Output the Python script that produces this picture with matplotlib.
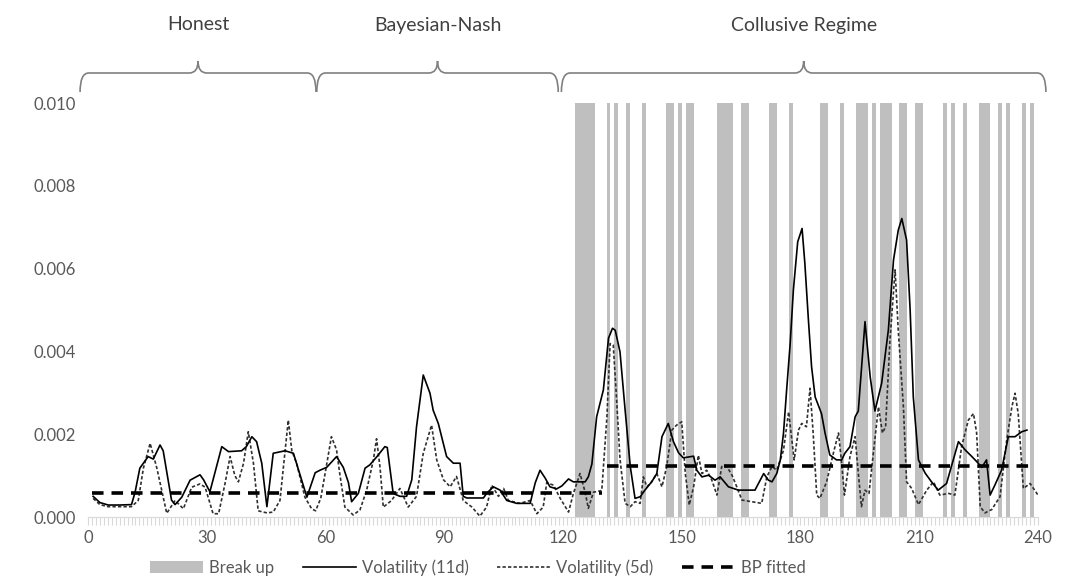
import matplotlib.pyplot as plt
from matplotlib.path import Path
from matplotlib.patches import PathPatch
from matplotlib.transforms import blended_transform_factory
from matplotlib.ticker import MultipleLocator, FuncFormatter

plt.rcParams['font.family'] = ['Lato', 'DejaVu Sans']

# days flagged as "break up"
breakup_days = [123, 124, 125, 126, 127, 131, 133, 136, 140, 146, 147, 149, 151, 152,
                159, 160, 161, 162, 165, 166, 172, 173, 177, 185, 186, 190, 194, 195,
                196, 198, 200, 201, 202, 205, 206, 209, 210, 216, 218, 221, 225, 226,
                227, 230, 232, 236, 238]

# volatility, 11 day window
vol11_x = [1.3, 3.0, 5.1, 8.0, 11.0, 11.9, 13.1, 15.2, 16.5, 18.2, 19.0, 21.1, 22.0, 23.7,
           25.8, 28.3, 29.2, 30.8, 33.8, 35.5, 38.8, 40.0, 41.4, 42.6, 43.9, 45.2, 46.8,
           49.8, 51.9, 54.0, 55.3, 57.4, 58.6, 60.3, 62.8, 64.5, 65.8, 66.6, 68.3, 70.0,
           71.2, 73.0, 75.0, 75.6, 77.1, 78.8, 80.5, 81.8, 83.0, 84.7, 86.4, 87.2, 88.5,
           90.6, 92.3, 94.0, 94.8, 95.7, 99.9, 100.7, 102.4, 104.1, 105.8, 108.3, 111.7,
           113.0, 114.2, 115.5, 116.7, 118.4, 119.7, 121.4, 122.6, 123.9, 125.6, 126.4,
           127.3, 128.5, 130.2, 131.5, 132.5, 133.2, 134.4, 135.7, 137.0, 138.2, 139.5,
           140.7, 142.4, 143.7, 145.0, 146.6, 147.9, 149.2, 150.4, 153.0, 153.8, 155.1,
           156.8, 158.4, 159.7, 161.8, 164.3, 168.5, 170.7, 171.9, 172.8, 174.0, 174.9,
           175.7, 176.5, 177.4, 178.2, 179.3, 180.4, 181.1, 182.0, 182.8, 183.7, 185.3,
           186.2, 187.4, 189.1, 190.4, 191.2, 192.5, 193.8, 194.6, 196.3, 197.6, 198.8,
           200.5, 202.2, 203.5, 204.7, 205.6, 206.8, 207.7, 208.5, 209.8, 211.5, 213.1,
           214.8, 216.9, 218.6, 219.9, 221.6, 223.3, 224.5, 225.8, 227.0, 227.9, 229.1,
           230.8, 232.5, 234.2, 235.9, 237.2]
vol11_y = [0.00050, 0.00035, 0.00029, 0.00029, 0.00030, 0.00060, 0.00118, 0.00146, 0.00140,
           0.00174, 0.00160, 0.00041, 0.00030, 0.00048, 0.00089, 0.00102, 0.00090, 0.00061,
           0.00170, 0.00158, 0.00160, 0.00170, 0.00194, 0.00182, 0.00130, 0.00025, 0.00154,
           0.00160, 0.00154, 0.00089, 0.00048, 0.00107, 0.00113, 0.00120, 0.00146, 0.00120,
           0.00083, 0.00037, 0.00057, 0.00118, 0.00126, 0.00146, 0.00170, 0.00168, 0.00057,
           0.00050, 0.00050, 0.00090, 0.00218, 0.00343, 0.00299, 0.00258, 0.00226, 0.00146,
           0.00130, 0.00130, 0.00050, 0.00046, 0.00046, 0.00057, 0.00073, 0.00065, 0.00040,
           0.00033, 0.00033, 0.00083, 0.00113, 0.00094, 0.00073, 0.00068, 0.00075, 0.00092,
           0.00085, 0.00085, 0.00085, 0.00097, 0.00128, 0.00242, 0.00307, 0.00432, 0.00456,
           0.00451, 0.00399, 0.00258, 0.00122, 0.00045, 0.00049, 0.00065, 0.00085, 0.00105,
           0.00194, 0.00226, 0.00182, 0.00155, 0.00143, 0.00147, 0.00113, 0.00097, 0.00101,
           0.00089, 0.00097, 0.00073, 0.00065, 0.00065, 0.00105, 0.00089, 0.00085, 0.00105,
           0.00138, 0.00202, 0.00307, 0.00420, 0.00548, 0.00665, 0.00697, 0.00613, 0.00476,
           0.00363, 0.00290, 0.00250, 0.00203, 0.00150, 0.00138, 0.00138, 0.00154, 0.00170,
           0.00242, 0.00256, 0.00472, 0.00339, 0.00256, 0.00323, 0.00452, 0.00621, 0.00693,
           0.00721, 0.00669, 0.00500, 0.00290, 0.00138, 0.00106, 0.00085, 0.00065, 0.00081,
           0.00138, 0.00182, 0.00162, 0.00146, 0.00134, 0.00120, 0.00138, 0.00053, 0.00077,
           0.00113, 0.00194, 0.00194, 0.00206, 0.00210]

# volatility, 5 day window
vol5_x = [1.3, 3.0, 5.1, 8.0, 11.0, 12.7, 14.0, 15.7, 17.4, 19.9, 22.0, 24.1, 26.2, 28.3,
          29.6, 31.6, 33.0, 34.6, 35.9, 37.1, 38.0, 39.3, 40.5, 41.8, 43.0, 45.2, 46.8,
          48.5, 49.8, 50.6, 51.5, 52.7, 54.8, 56.5, 57.5, 58.8, 59.9, 61.5, 62.8, 63.6,
          64.9, 67.0, 68.7, 70.4, 72.1, 72.9, 73.8, 74.6, 76.7, 78.8, 80.9, 83.0, 84.7,
          86.8, 88.1, 89.8, 91.5, 93.1, 94.8, 97.0, 99.0, 100.7, 102.0, 103.7, 105.0,
          106.2, 109.1, 111.7, 113.4, 115.0, 115.9, 117.6, 119.3, 121.4, 122.6, 124.3,
          125.6, 126.4, 127.7, 129.8, 131.1, 131.9, 132.7, 133.6, 134.4, 135.7, 137.0,
          138.2, 139.5, 140.3, 141.2, 142.4, 143.7, 145.0, 146.2, 147.5, 148.7, 150.0,
          150.9, 151.9, 153.0, 154.2, 155.1, 156.3, 157.6, 158.9, 160.1, 161.4, 162.7,
          163.9, 165.2, 167.7, 170.2, 171.5, 172.8, 174.0, 175.7, 177.0, 178.4, 179.5,
          180.3, 181.5, 182.4, 183.2, 184.1, 184.9, 186.6, 188.3, 189.6, 190.4, 191.1,
          192.5, 193.8, 194.6, 195.4, 196.3, 197.3, 198.4, 199.7, 200.7, 201.5, 202.6,
          203.9, 204.7, 206.0, 206.8, 208.1, 209.8, 211.9, 213.6, 215.2, 217.4, 219.0,
          220.7, 222.4, 223.7, 224.5, 225.4, 226.6, 228.3, 230.4, 232.1, 233.4, 234.2,
          235.0, 236.3, 238.0, 240.0]
vol5_y = [0.00045, 0.00030, 0.00025, 0.00025, 0.00025, 0.00040, 0.00118, 0.00178, 0.00118,
          0.00009, 0.00040, 0.00020, 0.00072, 0.00080, 0.00072, 0.00008, 0.00008, 0.00080,
          0.00146, 0.00100, 0.00085, 0.00130, 0.00206, 0.00130, 0.00015, 0.00010, 0.00012,
          0.00040, 0.00160, 0.00234, 0.00160, 0.00130, 0.00048, 0.00020, 0.00015, 0.00045,
          0.00105, 0.00194, 0.00162, 0.00105, 0.00024, 0.00005, 0.00017, 0.00065, 0.00138,
          0.00189, 0.00118, 0.00024, 0.00040, 0.00069, 0.00024, 0.00050, 0.00154, 0.00222,
          0.00138, 0.00090, 0.00073, 0.00098, 0.00040, 0.00024, 0.00002, 0.00024, 0.00077,
          0.00050, 0.00069, 0.00040, 0.00033, 0.00040, 0.00008, 0.00024, 0.00083, 0.00077,
          0.00045, 0.00012, 0.00056, 0.00105, 0.00060, 0.00021, 0.00060, 0.00064, 0.00242,
          0.00419, 0.00415, 0.00275, 0.00140, 0.00033, 0.00025, 0.00037, 0.00033, 0.00097,
          0.00073, 0.00085, 0.00105, 0.00073, 0.00122, 0.00210, 0.00222, 0.00230, 0.00105,
          0.00029, 0.00073, 0.00149, 0.00105, 0.00113, 0.00089, 0.00053, 0.00122, 0.00122,
          0.00101, 0.00073, 0.00041, 0.00037, 0.00033, 0.00097, 0.00122, 0.00113, 0.00161,
          0.00254, 0.00138, 0.00210, 0.00226, 0.00218, 0.00311, 0.00203, 0.00053, 0.00045,
          0.00085, 0.00154, 0.00203, 0.00130, 0.00053, 0.00146, 0.00194, 0.00106, 0.00025,
          0.00065, 0.00057, 0.00154, 0.00266, 0.00203, 0.00218, 0.00427, 0.00597, 0.00450,
          0.00266, 0.00085, 0.00069, 0.00030, 0.00065, 0.00085, 0.00053, 0.00057, 0.00053,
          0.00170, 0.00234, 0.00250, 0.00203, 0.00025, 0.00010, 0.00018, 0.00049, 0.00186,
          0.00266, 0.00299, 0.00250, 0.00069, 0.00081, 0.00053]

# fitted break point levels
bp1_x = [1, 129.8]
bp1_y = [0.00058, 0.00058]
bp2_x = [131, 238]
bp2_y = [0.00123, 0.00123]

# regimes shown with braces above the plot
regimes = ['Honest', 'Bayesian-Nash', 'Collusive Regime']
regime_bounds = [(-2, 57.6), (57.8, 118.8), (119.6, 242)]

fig = plt.figure(figsize=(10.69, 5.86), dpi=100)
ax = fig.add_axes([0.0823, 0.1177, 0.8887, 0.7065])

h_bar = ax.bar(breakup_days, [0.010] * len(breakup_days), width=1, align='edge',
               color='#bfbfbf', linewidth=0, zorder=1)
h11, = ax.plot(vol11_x, vol11_y, color='black', lw=1.2, zorder=3)
h5, = ax.plot(vol5_x, vol5_y, color='#303030', lw=1.2, ls=(0, (2, 1.3)), zorder=2)
hbp, = ax.plot(bp1_x, bp1_y, color='black', lw=2.6, ls=(0, (3.2, 2.2)), zorder=4)
ax.plot(bp2_x, bp2_y, color='black', lw=2.6, ls=(0, (3.2, 2.2)), zorder=4)

ax.set_xlim(0, 240)
ax.set_ylim(0, 0.010)
ax.xaxis.set_major_locator(MultipleLocator(30))
ax.xaxis.set_minor_locator(MultipleLocator(1))
ax.yaxis.set_major_locator(MultipleLocator(0.002))
ax.yaxis.set_major_formatter(FuncFormatter(lambda v, p: f'{v:.3f}'))
for s in ['top', 'right', 'left']:
    ax.spines[s].set_visible(False)
ax.spines['bottom'].set_color('#d9d9d9')
ax.tick_params(axis='x', which='both', color='#d9d9d9', length=6, width=0.8,
               labelcolor='#595959', labelsize=12, pad=3)
ax.tick_params(axis='y', length=0, labelcolor='#595959', labelsize=12, pad=9)

# braces + regime labels
tr = blended_transform_factory(ax.transData, fig.transFigure)
y_end = 1 - 92 / 586
y_line = 1 - 73 / 586
y_tip = 1 - 61 / 586
y_txt = 1 - 25 / 586
r = 2.2
for name, (x0, x1) in zip(regimes, regime_bounds):
    xm = (x0 + x1) / 2
    verts = [(x0, y_end), (x0, y_line), (x0 + r, y_line),
             (xm - r, y_line), (xm, y_line), (xm, y_tip),
             (xm, y_line), (xm + r, y_line),
             (x1 - r, y_line), (x1, y_line), (x1, y_end)]
    codes = [Path.MOVETO, Path.CURVE3, Path.CURVE3,
             Path.LINETO, Path.CURVE3, Path.CURVE3,
             Path.CURVE3, Path.CURVE3,
             Path.LINETO, Path.CURVE3, Path.CURVE3]
    fig.add_artist(PathPatch(Path(verts, codes), transform=tr, fill=False,
                             edgecolor='#808080', lw=1.2, clip_on=False))
    fig.text(xm, y_txt, name, transform=tr, ha='center', va='center',
             fontsize=14, color='#404040')

leg = fig.legend([h_bar, h11, h5, hbp],
                 ['Break up', 'Volatility (11d)', 'Volatility (5d)', 'BP fitted'],
                 loc='lower center', bbox_to_anchor=(0.447, -0.008), ncol=4, frameon=False,
                 fontsize=12, handlelength=3.2, handletextpad=0.35, columnspacing=1.7)
for t in leg.get_texts():
    t.set_color('#595959')

fig.savefig('out.png', dpi=100)
